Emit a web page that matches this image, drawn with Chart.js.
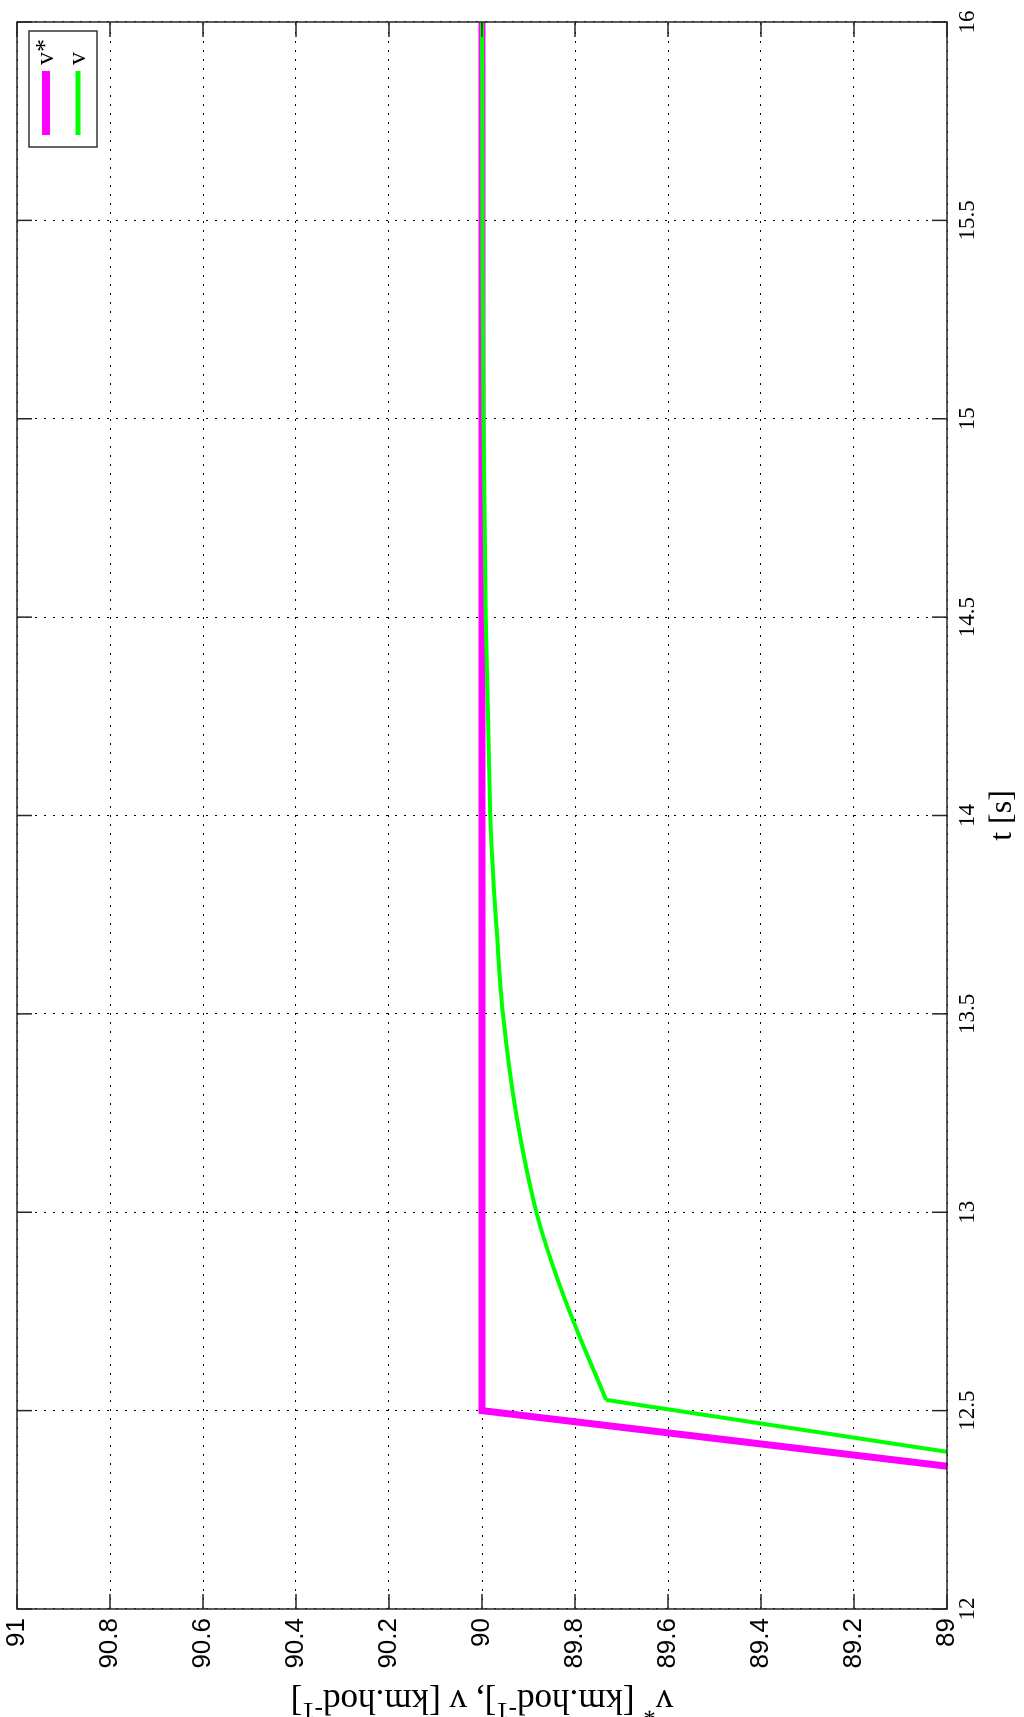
<!DOCTYPE html>
<html>
<head>
    <title>v* a v</title>
    <style>
        html, body {
            margin: 0;
            padding: 0;
            background: #fff;
            overflow: hidden;
        }
        /* the plot is drawn upright and then turned a quarter turn to the left */
        #wrap {
            position: absolute;
            left: 0;
            top: 0;
            width: 1717px;
            height: 1024px;
            transform-origin: 0 0;
            transform: translate(0, 1717px) rotate(-90deg);
        }
    </style>
    <script src="https://cdn.jsdelivr.net/npm/chart.js"></script>
</head>
<body>
    <div id="wrap"><canvas id="speedChart" width="1717" height="1024"></canvas></div>
    <script>
        // reference speed v*
        var tRef = [12.0, 12.5, 16.0];
        var vRef = [86.43, 90.0, 90.0];

        // actual speed v (straight rise up to the knee, then the slow approach)
        var tSpeed = [12.0, 12.527, 12.586, 12.7, 12.863, 13.0, 13.258, 13.5, 13.703, 13.913, 14.0, 14.5, 15.0, 15.5, 16.0];
        var vSpeed = [86.78, 89.733, 89.754, 89.795, 89.847, 89.883, 89.928, 89.955, 89.968, 89.979, 89.982, 89.992, 89.997, 89.999, 90.0];
        var kneeIndex = 1;

        var tTicks = [12, 12.5, 13, 13.5, 14, 14.5, 15, 15.5, 16];
        var vTicks = [89, 89.2, 89.4, 89.6, 89.8, 90, 90.2, 90.4, 90.6, 90.8, 91];

        // y label, with the superscript parts marked
        var yLabelParts = [
            { text: 'v', sup: false },
            { text: '*', sup: true },
            { text: ' [km.hod', sup: false },
            { text: '-1', sup: true },
            { text: '], v [km.hod', sup: false },
            { text: '-1', sup: true },
            { text: ']', sup: false }
        ];

        var serif = "'Liberation Serif', 'Times New Roman', serif";
        var sans = "'Liberation Sans', Arial, sans-serif";

        function toPoints(xs, ys) {
            return xs.map(function (x, i) { return { x: x, y: ys[i] }; });
        }

        // box round the axes and the short inward ticks, like the matlab figure
        var framePlugin = {
            id: 'frame',
            afterDatasetsDraw: function (chart) {
                var ctx = chart.ctx;
                var a = chart.chartArea;
                var xs = chart.scales.x, ys = chart.scales.y;
                var len = 15;
                ctx.save();
                ctx.strokeStyle = '#262626';
                ctx.lineWidth = 1.5;
                ctx.beginPath();
                tTicks.forEach(function (t) {
                    var px = xs.getPixelForValue(t);
                    ctx.moveTo(px, a.top); ctx.lineTo(px, a.top + len);
                    ctx.moveTo(px, a.bottom); ctx.lineTo(px, a.bottom - len);
                });
                vTicks.forEach(function (v) {
                    var py = ys.getPixelForValue(v);
                    ctx.moveTo(a.left, py); ctx.lineTo(a.left + len, py);
                    ctx.moveTo(a.right, py); ctx.lineTo(a.right - len, py);
                });
                ctx.stroke();
                ctx.strokeRect(a.left, a.top, a.right - a.left, a.bottom - a.top);
                ctx.restore();
            }
        };

        // y axis label with real superscripts
        var yLabelPlugin = {
            id: 'yLabel',
            afterDraw: function (chart) {
                var ctx = chart.ctx;
                var a = chart.chartArea;
                var size = 35, supSize = 25;
                ctx.save();
                ctx.fillStyle = '#000';
                ctx.textBaseline = 'alphabetic';
                var total = 0;
                yLabelParts.forEach(function (p) {
                    ctx.font = (p.sup ? supSize : size) + 'px ' + serif;
                    p.w = ctx.measureText(p.text).width;
                    total += p.w;
                });
                ctx.translate(27, (a.top + a.bottom) / 2);
                ctx.rotate(-Math.PI / 2);
                var x = -total / 2;
                yLabelParts.forEach(function (p) {
                    ctx.font = (p.sup ? supSize : size) + 'px ' + serif;
                    ctx.fillText(p.text, x, p.sup ? -13 : 0);
                    x += p.w;
                });
                ctx.restore();
            }
        };

        // legend box in the top right corner
        var legendPlugin = {
            id: 'boxLegend',
            afterDraw: function (chart) {
                var ctx = chart.ctx;
                var a = chart.chartArea;
                var x0 = a.right - 125, y0 = a.top + 12;
                var w = 116, h = 68;
                ctx.save();
                ctx.fillStyle = '#fff';
                ctx.fillRect(x0, y0, w, h);
                ctx.strokeStyle = '#333';
                ctx.lineWidth = 1.5;
                ctx.strokeRect(x0, y0, w, h);
                ctx.font = '26px ' + serif;
                ctx.textBaseline = 'middle';
                ctx.fillStyle = '#000';
                var row = 0;
                chart.data.datasets.forEach(function (ds) {
                    if (ds.noLegend) return;
                    var yy = y0 + 17 + row * 32;
                    ctx.strokeStyle = ds.borderColor;
                    ctx.lineWidth = ds.borderWidth + 1;
                    ctx.beginPath();
                    ctx.moveTo(x0 + 12, yy);
                    ctx.lineTo(x0 + 76, yy);
                    ctx.stroke();
                    ctx.fillText(ds.label, x0 + 82, yy);
                    row++;
                });
                ctx.restore();
            }
        };

        var ctx = document.getElementById('speedChart').getContext('2d');
        var speedChart = new Chart(ctx, {
            type: 'line',
            data: {
                datasets: [{
                    label: 'v*',
                    data: toPoints(tRef, vRef),
                    borderColor: '#ff00ff',
                    borderWidth: 7,
                    pointRadius: 0,
                    tension: 0,
                    clip: 0,
                    order: 2
                }, {
                    label: 'v',
                    data: toPoints(tSpeed, vSpeed).slice(kneeIndex),
                    borderColor: '#00ff00',
                    borderWidth: 4,
                    pointRadius: 0,
                    cubicInterpolationMode: 'monotone',
                    clip: 0,
                    order: 1
                }, {
                    label: 'v',
                    noLegend: true,
                    data: toPoints(tSpeed, vSpeed).slice(0, kneeIndex + 1),
                    borderColor: '#00ff00',
                    borderWidth: 4,
                    pointRadius: 0,
                    tension: 0,
                    clip: 0,
                    order: 1
                }]
            },
            options: {
                responsive: false,
                animation: false,
                layout: { padding: { top: 17, right: 22, left: 0, bottom: 0 } },
                plugins: {
                    legend: { display: false },
                    tooltip: { enabled: false }
                },
                scales: {
                    x: {
                        type: 'linear',
                        min: 12,
                        max: 16,
                        afterBuildTicks: function (scale) {
                            scale.ticks = tTicks.map(function (t) { return { value: t }; });
                        },
                        afterFit: function (scale) {
                            scale.height = 77;
                            scale.paddingLeft = 0;
                            scale.paddingRight = 0;
                        },
                        ticks: {
                            autoSkip: false,
                            maxRotation: 0,
                            padding: 7,
                            color: '#000',
                            font: { family: serif, size: 23 },
                            callback: function (value) { return String(value); }
                        },
                        grid: { color: '#000', lineWidth: 1, drawTicks: false },
                        border: { display: false, dash: [2, 7] },
                        title: {
                            display: true,
                            text: 't [s]',
                            color: '#000',
                            font: { family: serif, size: 32 },
                            padding: { top: 0, bottom: 2 }
                        }
                    },
                    y: {
                        type: 'linear',
                        min: 89,
                        max: 91,
                        afterBuildTicks: function (scale) {
                            scale.ticks = vTicks.map(function (v) { return { value: v }; });
                        },
                        afterFit: function (scale) {
                            scale.width = 108;
                            scale.paddingTop = 0;
                            scale.paddingBottom = 0;
                        },
                        ticks: {
                            autoSkip: false,
                            padding: 9,
                            color: '#000',
                            font: { family: sans, size: 26 },
                            callback: function (value) { return String(value); }
                        },
                        grid: { color: '#000', lineWidth: 1, drawTicks: false },
                        border: { display: false, dash: [2, 7] },
                        title: { display: false }
                    }
                }
            },
            plugins: [framePlugin, yLabelPlugin, legendPlugin]
        });
    </script>
</body>
</html>
